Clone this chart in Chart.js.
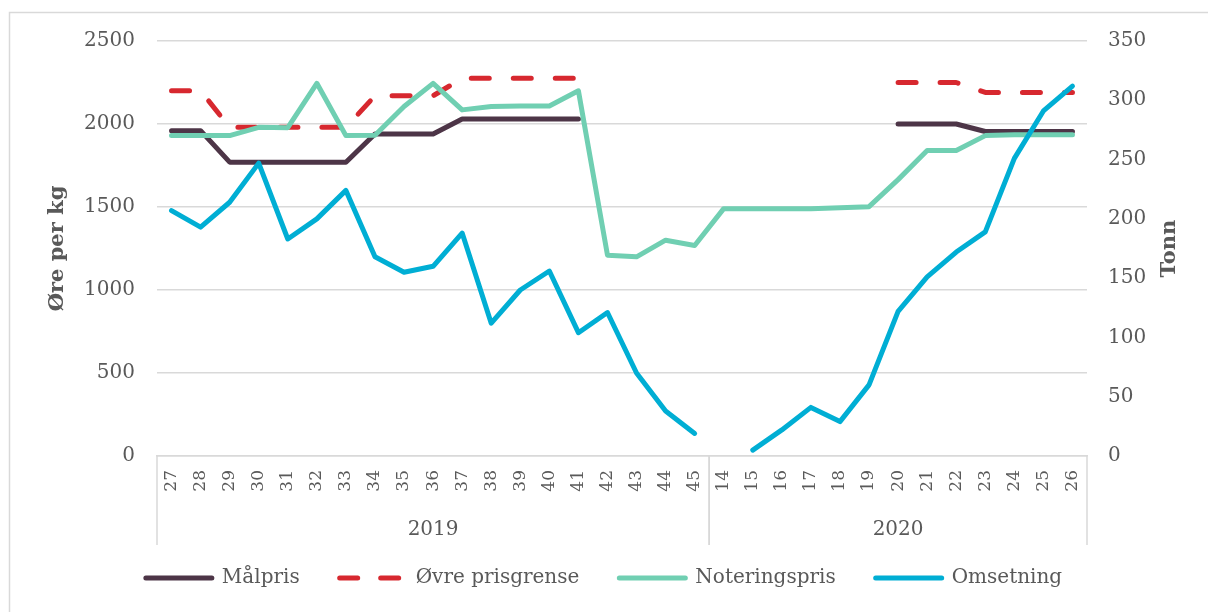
<!DOCTYPE html>
<html>
<head>
<meta charset="utf-8">
<script src="https://cdn.jsdelivr.net/npm/chart.js@4"></script>
<style>
    html, body { margin: 0; padding: 0; background: #fff; }
    #wrap { width: 1208px; height: 612px; }
</style>
</head>
<body>
<div id="wrap"><canvas id="chart" width="1208" height="612"></canvas></div>
<script>
// week numbers, grouped by year
const years = ["2019", "2020"];
const weeks2019 = ["27", "28", "29", "30", "31", "32", "33", "34", "35", "36", "37", "38", "39", "40", "41", "42", "43", "44", "45"];
const weeks2020 = ["14", "15", "16", "17", "18", "19", "20", "21", "22", "23", "24", "25", "26"];
const weeks = weeks2019.concat(weeks2020);

// øre per kg
const malpris = [1960, 1960, 1770, 1770, 1770, 1770, 1770, 1940, 1940, 1940, 2030, 2030, 2030, 2030, 2030, null, null, null, null,
    null, null, null, null, null, null, 2000, 2000, 2000, 1955, 1955, 1955, 1955];
const ovrePrisgrense = [2200, 2200, 1980, 1980, 1980, 1980, 1980, 2170, 2170, 2170, 2275, 2275, 2275, 2275, 2275, null, null, null, null,
    null, null, null, null, null, null, 2250, 2250, 2250, 2190, 2190, 2190, 2190];
const noteringspris = [1930, 1930, 1930, 1980, 1978, 2245, 1930, 1932, 2105, 2245, 2085, 2105, 2108, 2108, 2200, 1210, 1200, 1300, 1268,
    1490, 1490, 1490, 1490, 1495, 1502, 1665, 1840, 1840, 1930, 1935, 1935, 1935];
// tonn
const omsetning = [207, 193, 214, 247, 183, 200, 224, 168, 155, 160, 188, 112, 140, 156, 104, 121, 70, 38, 19,
    null, 5, 22, 41, 29, 60, 122, 151, 172, 189, 251, 291, 312];

const FONT = "'DejaVu Serif', 'Liberation Serif', serif";
const TXT = "#595959";
const GRID = "#d9d9d9";

// frame, year labels, group separators and right axis title
const extras = {
    id: "extras",
    beforeDraw(chart) {
        const ctx = chart.ctx;
        ctx.save();
        ctx.strokeStyle = GRID;
        ctx.lineWidth = 1.5;
        ctx.beginPath();
        ctx.moveTo(9.5, chart.height);
        ctx.lineTo(9.5, 12.5);
        ctx.lineTo(chart.width, 12.5);
        ctx.stroke();
        ctx.restore();
    },
    afterDraw(chart) {
        const ctx = chart.ctx;
        const x = chart.scales.x;
        const area = chart.chartArea;
        const step = x.getPixelForValue(1) - x.getPixelForValue(0);
        const sizes = [weeks2019.length, weeks2020.length];
        ctx.save();
        ctx.strokeStyle = GRID;
        ctx.lineWidth = 1.5;
        ctx.fillStyle = TXT;
        ctx.font = "20px " + FONT;
        ctx.textAlign = "center";
        ctx.textBaseline = "middle";
        let start = 0;
        years.forEach((yr, g) => {
            const left = x.getPixelForValue(start) - step / 2;
            const right = x.getPixelForValue(start + sizes[g] - 1) + step / 2;
            ctx.beginPath();
            ctx.moveTo(left, area.bottom);
            ctx.lineTo(left, area.bottom + 89);
            ctx.moveTo(right, area.bottom);
            ctx.lineTo(right, area.bottom + 89);
            ctx.stroke();
            ctx.fillText(yr, (left + right) / 2, area.bottom + 74);
            start += sizes[g];
        });

        // "Tonn" reads bottom to top like the left title
        const y1 = chart.scales.y1;
        ctx.translate(y1.right - 38, (area.top + area.bottom) / 2);
        ctx.rotate(-Math.PI / 2);
        ctx.font = "bold 21px " + FONT;
        ctx.fillText("Tonn", 0, 0);
        ctx.restore();
    }
};

function lineSet(label, data, color, axis, order) {
    return {
        label: label,
        data: data,
        yAxisID: axis,
        borderColor: color,
        backgroundColor: color,
        borderWidth: 5,
        borderCapStyle: "round",
        borderJoinStyle: "round",
        pointRadius: 0,
        pointHoverRadius: 0,
        tension: 0,
        spanGaps: false,
        order: order
    };
}

const dashed = lineSet("Øvre prisgrense", ovrePrisgrense, "#d7282f", "y", 3);
dashed.borderDash = [18, 24];

new Chart(document.getElementById("chart"), {
    type: "line",
    data: {
        labels: weeks,
        datasets: [
            lineSet("Målpris", malpris, "#4d3547", "y", 4),
            dashed,
            lineSet("Noteringspris", noteringspris, "#70cfb2", "y", 2),
            lineSet("Omsetning", omsetning, "#00aed4", "y1", 1)
        ]
    },
    plugins: [extras],
    options: {
        responsive: false,
        animation: false,
        layout: {
            padding: { top: 41, bottom: 14, left: 0, right: 0 }
        },
        plugins: {
            tooltip: { enabled: false },
            title: { display: false },
            legend: {
                position: "bottom",
                labels: {
                    boxWidth: 66,
                    boxHeight: 0,
                    padding: 40,
                    color: TXT,
                    font: { family: FONT, size: 20 },
                    sort: (a, b) => a.datasetIndex - b.datasetIndex,
                    generateLabels(chart) {
                        const items = Chart.defaults.plugins.legend.labels.generateLabels(chart);
                        items.forEach(it => {
                            // one pass of the dash pattern so the return stroke of the box stays empty
                            if (it.lineDash && it.lineDash.length) it.lineDash = [18, 23, 18, 200];
                        });
                        return items;
                    }
                }
            }
        },
        scales: {
            x: {
                offset: true,
                grid: { display: false, drawTicks: false },
                border: { display: true, color: GRID, width: 1.5 },
                ticks: {
                    autoSkip: false,
                    minRotation: 90,
                    maxRotation: 90,
                    padding: 14,
                    color: TXT,
                    font: { family: FONT, size: 17 }
                },
                afterFit: s => { s.height = 72; }
            },
            y: {
                position: "left",
                min: 0,
                max: 2500,
                grid: { color: GRID, lineWidth: 1.5, drawTicks: false },
                border: { display: false },
                ticks: {
                    stepSize: 500,
                    padding: 22,
                    color: TXT,
                    font: { family: FONT, size: 20 },
                    callback: v => String(v)
                },
                title: {
                    display: true,
                    text: "Øre per kg",
                    color: TXT,
                    padding: { top: 45, bottom: 0 },
                    font: { family: FONT, size: 21, weight: "bold" }
                },
                afterFit: s => { s.width = 157; }
            },
            y1: {
                position: "right",
                min: 0,
                max: 350,
                grid: { display: false, drawTicks: false },
                border: { display: false },
                ticks: {
                    stepSize: 50,
                    padding: 21,
                    color: TXT,
                    font: { family: FONT, size: 20 },
                    callback: v => String(v)
                },
                afterFit: s => { s.width = 121; }
            }
        }
    }
});
</script>
</body>
</html>
